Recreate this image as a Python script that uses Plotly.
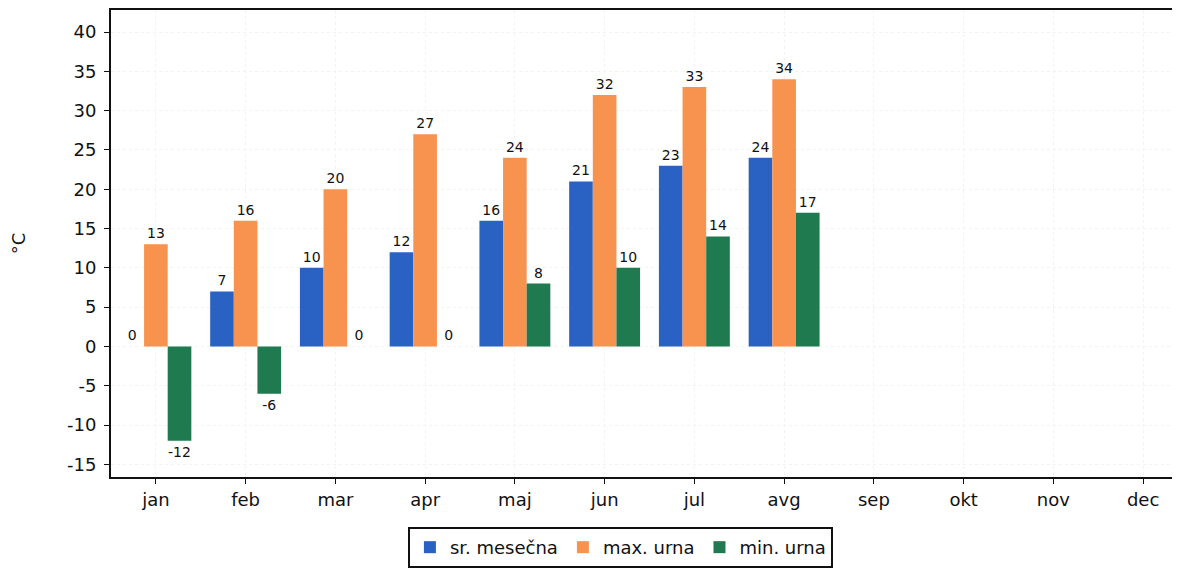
import plotly.graph_objects as go

months = ["jan", "feb", "mar", "apr", "maj", "jun", "jul", "avg", "sep", "okt", "nov", "dec"]
sr_mesecna = [0, 7, 10, 12, 16, 21, 23, 24, None, None, None, None]
max_urna = [13, 16, 20, 27, 24, 32, 33, 34, None, None, None, None]
min_urna = [-12, -6, 0, 0, 8, 10, 14, 17, None, None, None, None]
y_ticks = [-15, -10, -5, 0, 5, 10, 15, 20, 25, 30, 35, 40]

FONT = "DejaVu Sans"
series = [
    ("sr. mesečna", sr_mesecna, "#2A62C4"),
    ("max. urna", max_urna, "#F8924F"),
    ("min. urna", min_urna, "#1F7A4F"),
]

fig = go.Figure()
for name, vals, col in series:
    fig.add_trace(go.Bar(
        name=name, x=months, y=vals,
        marker=dict(color=col, line=dict(width=0)),
        text=[("" if v is None else str(v)) for v in vals],
        textposition="outside",
        textfont=dict(family=FONT, size=14, color="#111111"),
        cliponaxis=False,
    ))

fig.update_layout(
    width=1180, height=571,
    margin=dict(l=103, r=0, t=2, b=102, autoexpand=False),
    paper_bgcolor="white", plot_bgcolor="white",
    barmode="group", bargap=0.21, bargroupgap=0,
    font=dict(family=FONT, size=18, color="#111111"),
    showlegend=True,
    legend=dict(
        orientation="h", x=0.473, xanchor="center", y=-0.107, yanchor="top",
        bordercolor="#111111", borderwidth=2, bgcolor="white",
        font=dict(family=FONT, size=18, color="#111111"),
        itemsizing="constant",
    ),
)
fig.update_xaxes(
    range=[-0.5, 11.5], showline=True, linecolor="#111111", linewidth=2,
    mirror=True, ticks="outside", ticklen=5, tickcolor="#111111",
    showgrid=True, gridcolor="#f3f3f3", griddash="dot", automargin=False,
    tickfont=dict(family=FONT, size=18, color="#111111"),
)
fig.update_yaxes(
    range=[-16.6, 42.8], tickvals=y_ticks, ticktext=[str(v) for v in y_ticks],
    showline=True, linecolor="#111111",
    linewidth=2, mirror=False, ticks="outside", ticklen=5, tickcolor="#111111",
    showgrid=True, gridcolor="#f3f3f3", griddash="dot", zeroline=False,
    automargin=False, ticklabelstandoff=4,
    tickfont=dict(family=FONT, size=18, color="#111111"),
    title=dict(text="°C", font=dict(family=FONT, size=18, color="#111111"), standoff=40),
)

fig.write_html("out.html")
